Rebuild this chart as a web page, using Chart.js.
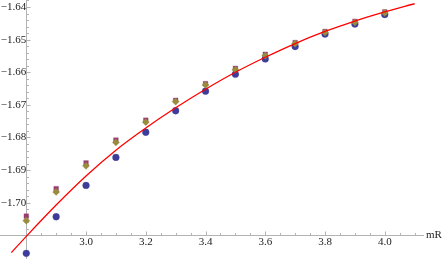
<!DOCTYPE html>
<html>
<head>
<meta charset="utf-8">
<script src="https://cdn.jsdelivr.net/npm/chart.js@4.4.1/dist/chart.umd.min.js"></script>
<style>
  html, body { margin: 0; padding: 0; background: #fff; }
</style>
</head>
<body>
<canvas id="chart" width="442" height="259"></canvas>
<script>
// mR values of the sampled points
const mR = [2.8, 2.9, 3.0, 3.1, 3.2, 3.3, 3.4, 3.5, 3.6, 3.7, 3.8, 3.9, 4.0];
// three point series
const circleVals  = [-1.7155, -1.7043, -1.6947, -1.6861, -1.6784, -1.6718, -1.6658, -1.6606, -1.6559, -1.6521, -1.6483, -1.6452, -1.6423];
const squareVals  = [-1.7041, -1.6957, -1.6878, -1.6808, -1.6747, -1.6686, -1.6635, -1.6588, -1.6545, -1.6509, -1.6475, -1.6444, -1.6415];
const diamondVals = [-1.7055, -1.6967, -1.6887, -1.6815, -1.6753, -1.6690, -1.6639, -1.6592, -1.6549, -1.6512, -1.6478, -1.6447, -1.6418];
// red fit curve, read at these mR positions
const fitX = [2.75, 2.8, 2.9, 3.0, 3.1, 3.2, 3.3, 3.4, 3.5, 3.6, 3.7, 3.8, 3.9, 4.0, 4.1];
const fitY = [-1.7153, -1.7103, -1.7007, -1.6918, -1.6839, -1.6771, -1.6709, -1.6652, -1.6600, -1.6554, -1.6512, -1.6475, -1.6443, -1.6415, -1.6390];
// tick labels
const xTickVals = [3.0, 3.2, 3.4, 3.6, 3.8, 4.0];
const yTickVals = [-1.70, -1.69, -1.68, -1.67, -1.66, -1.65, -1.64];

const xAxisAt = -1.71;   // where the horizontal axis crosses
const yAxisAt = 2.8;     // where the vertical axis crosses
const axisColor = '#b3b3b3';
const labelColor = '#222';
const labelFont = { family: "'Liberation Serif', 'DejaVu Serif', serif", size: 11 };

const toXY = (xs, ys) => xs.map((x, i) => ({ x: x, y: ys[i] }));

// axes sit inside the plot, so they must not take any layout room
function noRoom(scale) {
    if (scale.isHorizontal()) scale.height = 0; else scale.width = 0;
    scale.paddingTop = scale.paddingBottom = scale.paddingLeft = scale.paddingRight = 0;
}

// inward tick marks (major + minor) and the axis name, Mathematica style
const axisDecor = {
    id: 'axisDecor',
    beforeDatasetsDraw(chart) {
        const { ctx, scales: { x, y } } = chart;
        const ax = Math.round(x.getPixelForValue(yAxisAt)) + 0.5;
        const ay = Math.round(y.getPixelForValue(xAxisAt)) + 0.5;
        ctx.save();
        ctx.strokeStyle = axisColor;
        ctx.lineWidth = 1;
        ctx.beginPath();
        // x ticks, every 0.05, majors every 0.2
        for (let k = 1; k <= 26; k++) {
            const v = yAxisAt + k * 0.05;
            if (v > x.max) break;
            const px = Math.round(x.getPixelForValue(v)) + 0.5;
            const major = k % 4 === 0;
            ctx.moveTo(px, ay);
            ctx.lineTo(px, ay - (major ? 4 : 2.5));
        }
        // y ticks, every 0.002, majors every 0.01
        for (let k = 1; k <= 40; k++) {
            const v = xAxisAt + k * 0.002;
            if (v > y.max) break;
            const py = Math.round(y.getPixelForValue(v)) + 0.5;
            const major = k % 5 === 0;
            ctx.moveTo(ax, py);
            ctx.lineTo(ax + (major ? 4 : 2.5), py);
        }
        ctx.stroke();
        ctx.fillStyle = labelColor;
        ctx.font = labelFont.size + 'px ' + labelFont.family;
        ctx.textAlign = 'left';
        ctx.textBaseline = 'middle';
        ctx.fillText('mR', x.right + 3, ay);
        ctx.restore();
    }
};

new Chart(document.getElementById('chart'), {
    type: 'scatter',
    data: {
        datasets: [
            {
                label: 'fit',
                data: toXY(fitX, fitY),
                showLine: true,
                borderColor: '#ff0000',
                borderWidth: 1.3,
                pointRadius: 0,
                cubicInterpolationMode: 'monotone'
            },
            {
                label: 'diamond',
                data: toXY(mR, diamondVals),
                pointStyle: 'rectRot',
                pointRadius: 3.6,
                backgroundColor: '#998c3d',
                borderColor: 'rgba(153,140,61,0.5)',
                borderWidth: 0.5
            },
            {
                label: 'square',
                data: toXY(mR, squareVals),
                pointStyle: 'rect',
                pointRadius: 3.3,
                backgroundColor: '#993d71',
                borderColor: 'rgba(153,61,113,0.35)',
                borderWidth: 1
            },
            {
                label: 'circle',
                data: toXY(mR, circleVals),
                pointStyle: 'circle',
                pointRadius: 3.4,
                backgroundColor: '#3d3d99',
                borderColor: 'rgba(61,61,153,0.4)',
                borderWidth: 0.8
            }
        ]
    },
    options: {
        responsive: false,
        animation: false,
        layout: { autoPadding: false, padding: { left: 0, top: 0, right: 19, bottom: 0 } },
        plugins: { legend: { display: false }, tooltip: { enabled: false } },
        scales: {
            x: {
                type: 'linear',
                min: 2.712,
                max: 4.128,
                position: { y: xAxisAt },
                afterFit: noRoom,
                afterBuildTicks(scale) { scale.ticks = xTickVals.map(v => ({ value: v })); },
                grid: { display: true, drawOnChartArea: false, drawTicks: false },
                border: { display: true, color: axisColor, width: 1 },
                ticks: {
                    autoSkip: false,
                    maxRotation: 0,
                    padding: 0,
                    color: labelColor,
                    font: labelFont,
                    callback: v => Number(v).toFixed(1)
                }
            },
            y: {
                type: 'linear',
                min: -1.71725,
                max: -1.63785,
                position: { x: yAxisAt },
                afterFit: noRoom,
                afterBuildTicks(scale) { scale.ticks = yTickVals.map(v => ({ value: v })); },
                grid: { display: true, drawOnChartArea: false, drawTicks: false },
                border: { display: true, color: axisColor, width: 1 },
                ticks: {
                    autoSkip: false,
                    padding: 0,
                    color: labelColor,
                    font: labelFont,
                    callback: v => '\u2212' + Math.abs(v).toFixed(2)
                }
            }
        }
    },
    plugins: [axisDecor]
});
</script>
</body>
</html>
